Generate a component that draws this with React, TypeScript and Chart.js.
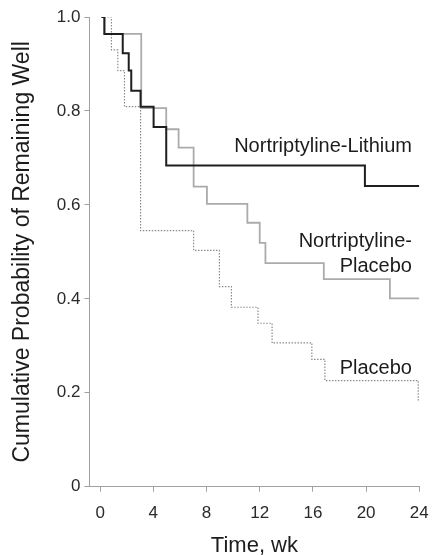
import React, { useEffect, useRef } from "react";
import { Chart, registerables } from "chart.js";

Chart.register(...registerables);

// Kaplan-Meier style step data (time in weeks, cumulative probability)
const lithiumWeeks = [0.1, 0.32, 1.7, 2.15, 2.34, 3.04, 4.02, 4.97, 19.91, 24];
const lithiumProb = [1.0, 0.964, 0.923, 0.886, 0.843, 0.809, 0.766, 0.684, 0.64, 0.64];

const nortPlaceboWeeks = [0.1, 0.32, 3.09, 4.97, 5.9, 7.03, 8.03, 11.07, 12.0, 12.43, 16.82, 21.79, 24];
const nortPlaceboProb = [1.0, 0.964, 0.806, 0.761, 0.722, 0.639, 0.602, 0.562, 0.519, 0.476, 0.442, 0.401, 0.401];

const placeboWeeks = [0.1, 0.85, 1.33, 1.83, 3.04, 7.03, 8.97, 9.87, 11.87, 12.93, 15.92, 16.9, 23.92, 24];
const placeboProb = [1.0, 0.93, 0.886, 0.809, 0.545, 0.503, 0.426, 0.382, 0.348, 0.306, 0.271, 0.226, 0.185, 0.185];

const xTickValues = [0, 4, 8, 12, 16, 20, 24];
const yTickValues = [0, 0.2, 0.4, 0.6, 0.8, 1.0];

const xTitle = "Time, wk";
const yTitle = "Cumulative Probability of Remaining Well";

// Curve labels (one entry per text line)
const labelLines = ["Nortriptyline-Lithium", "Nortriptyline-", "Placebo", "Placebo"];
const labelWeeks = [23.45, 23.45, 23.45, 23.45];
const labelProbs = [0.7125, 0.511, 0.458, 0.24];

const FONT = '"Liberation Sans", Helvetica, Arial, sans-serif';

export default function App() {
  const ref = useRef<HTMLCanvasElement>(null);

  useEffect(() => {
    if (!ref.current) return;
    const toPts = (xs: number[], ys: number[]) => xs.map((x, i) => ({ x, y: ys[i] }));

    const labelPlugin = {
      id: "curveLabels",
      afterDatasetsDraw(chart: any) {
        const { ctx } = chart;
        const xs = chart.scales.x;
        const ys = chart.scales.y;
        ctx.save();
        ctx.font = `20px ${FONT}`;
        ctx.fillStyle = "#1c1c1c";
        ctx.textAlign = "right";
        ctx.textBaseline = "alphabetic";
        labelLines.forEach((t, i) => {
          ctx.fillText(t, xs.getPixelForValue(labelWeeks[i]), ys.getPixelForValue(labelProbs[i]));
        });
        ctx.restore();
      },
    };

    const axisColor = "#a0a0a0";

    const chart = new Chart(ref.current, {
      type: "line",
      data: {
        datasets: [
          {
            label: "Nortriptyline-Lithium",
            data: toPts(lithiumWeeks, lithiumProb),
            borderColor: "#1e1e1e",
            borderWidth: 2,
            stepped: "before",
            pointRadius: 0,
            fill: false,
          },
          {
            label: "Nortriptyline-Placebo",
            data: toPts(nortPlaceboWeeks, nortPlaceboProb),
            borderColor: "#ababab",
            borderWidth: 1.8,
            stepped: "before",
            pointRadius: 0,
            fill: false,
          },
          {
            label: "Placebo",
            data: toPts(placeboWeeks, placeboProb),
            borderColor: "#8c8c8c",
            borderWidth: 1.2,
            borderDash: [1.5, 1.5],
            stepped: "before",
            pointRadius: 0,
            fill: false,
          },
        ],
      },
      options: {
        animation: false,
        responsive: false,
        layout: { padding: { top: 17, right: 14.7, bottom: 0, left: 0 } },
        plugins: {
          legend: { display: false },
          tooltip: { enabled: false },
        },
        scales: {
          x: {
            type: "linear",
            min: -0.8,
            max: 24,
            afterBuildTicks: (s: any) => {
              s.ticks = xTickValues.map((v) => ({ value: v }));
            },
            afterFit: (s: any) => {
              s.height = 68.3;
              s.paddingLeft = 0;
              s.paddingRight = 0;
            },
            grid: { drawOnChartArea: false, drawTicks: true, tickLength: 5, color: axisColor },
            border: { display: true, color: axisColor, width: 1 },
            ticks: {
              padding: 11,
              color: "#2a2a2a",
              font: { size: 17, family: FONT },
              maxRotation: 0,
              autoSkip: false,
              callback: (v: any) => String(v),
            },
            title: {
              display: true,
              text: xTitle,
              color: "#1c1c1c",
              font: { size: 22, family: FONT, lineHeight: 1 },
              padding: { top: 0, bottom: -2 },
            },
          },
          y: {
            type: "linear",
            min: 0,
            max: 1,
            afterBuildTicks: (s: any) => {
              s.ticks = yTickValues.map((v) => ({ value: v }));
            },
            afterFit: (s: any) => {
              s.width = 89.5;
              s.paddingTop = 0;
              s.paddingBottom = 0;
            },
            grid: { drawOnChartArea: false, drawTicks: true, tickLength: 5, color: axisColor },
            border: { display: true, color: axisColor, width: 1 },
            ticks: {
              padding: 4,
              color: "#2a2a2a",
              font: { size: 17, family: FONT },
              callback: (v: any) => (Number(v) === 0 ? "0" : Number(v).toFixed(1)),
            },
            title: {
              display: true,
              text: yTitle,
              color: "#1c1c1c",
              font: { size: 23, family: FONT },
              padding: { top: 9, bottom: 0 },
            },
          },
        },
      },
      plugins: [labelPlugin],
    } as any);

    return () => chart.destroy();
  }, []);

  return (
    <div style={{ position: "fixed", left: 0, top: 0, width: 434, height: 555, background: "#fff" }}>
      <canvas ref={ref} width={434} height={555} style={{ display: "block" }} />
    </div>
  );
}
